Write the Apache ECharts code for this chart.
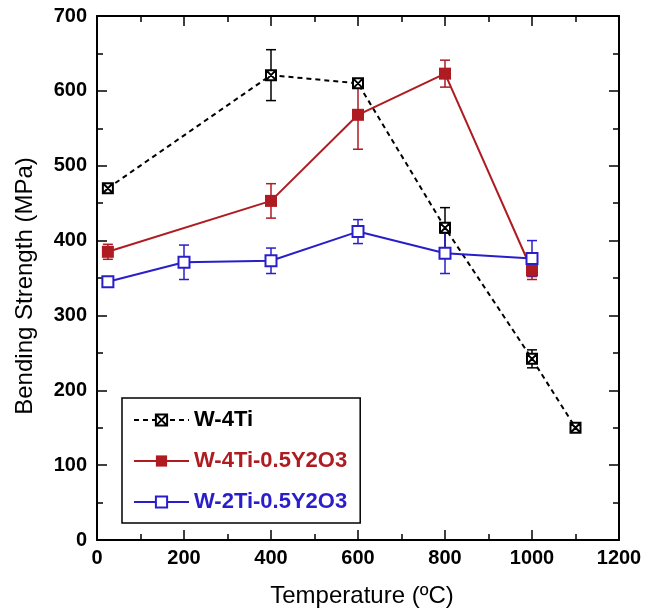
<!DOCTYPE html>
<html style="height: 100%">

<head>
  <meta charset="utf-8">
  <script type="text/javascript" src="https://cdn.jsdelivr.net/npm/echarts/dist/echarts.min.js"></script>
</head>

<body style="margin: 0; height: 100%; background: #fff">
  <div id="container" style="width: 659px; height: 609px"></div>
  <script type="text/javascript">
    // data
    var names = ["W-4Ti", "W-4Ti-0.5Y2O3", "W-2Ti-0.5Y2O3"];
    var w4tiX = [25, 400, 600, 800, 1000, 1100];
    var w4tiY = [470, 621, 610, 417, 242, 150];
    var w4tiErr = [0, 34, 0, 27, 12, 0];
    var w4tiYX = [25, 400, 600, 800, 1000];
    var w4tiYY = [385, 453, 568, 623, 360];
    var w4tiYErr = [10, 23, 46, 18, 12];
    var w2tiYX = [25, 200, 400, 600, 800, 1000];
    var w2tiYY = [345, 371, 373, 412, 383, 376];
    var w2tiYErr = [3, 23, 17, 16, 27, 24];

    var _colors = ['#000000', '#ae1c22', '#2a1ecb'];
    var fontName = 'Liberation Sans, Arial, sans-serif';
    var crossBox = 'path://M0,0L10,0L10,10L0,10Z M0,0L10,10 M10,0L0,10';

    function pairs(xs, ys) {
      var out = [];
      for (var i = 0; i < xs.length; i++) out.push([xs[i], ys[i]]);
      return out;
    }
    function errData(xs, ys, es) {
      var out = [];
      for (var i = 0; i < xs.length; i++) {
        if (es[i] > 0) out.push([xs[i], ys[i] - es[i], ys[i] + es[i]]);
      }
      return out;
    }
    function errSeries(data, color) {
      return {
        type: 'custom',
        silent: true,
        z: 1,
        data: data,
        renderItem: function (params, api) {
          var lo = api.coord([api.value(0), api.value(1)]);
          var hi = api.coord([api.value(0), api.value(2)]);
          var w = 5;
          var st = { stroke: color, lineWidth: 1.5 };
          return {
            type: 'group',
            children: [
              { type: 'line', shape: { x1: lo[0], y1: lo[1], x2: hi[0], y2: hi[1] }, style: st },
              { type: 'line', shape: { x1: lo[0] - w, y1: lo[1], x2: lo[0] + w, y2: lo[1] }, style: st },
              { type: 'line', shape: { x1: hi[0] - w, y1: hi[1], x2: hi[0] + w, y2: hi[1] }, style: st }
            ]
          };
        }
      };
    }

    function plain(v) { return String(v); }
    var axisLine = { onZero: false, lineStyle: { color: '#000', width: 2 } };
    function xAx(pos, labels) {
      return {
        type: 'value', position: pos, min: 0, max: 1200, interval: 200,
        axisLine: axisLine,
        axisTick: { inside: true, length: 10, lineStyle: { color: '#000', width: 1.5 } },
        minorTick: { show: true, splitNumber: 2, length: 6, lineStyle: { color: '#000', width: 1.5 } },
        splitLine: { show: false },
        axisLabel: { show: labels, formatter: plain, color: '#000', fontSize: 20, fontWeight: 'bold', fontFamily: fontName, margin: 8 }
      };
    }
    function yAx(pos, labels) {
      return {
        type: 'value', position: pos, min: 0, max: 700, interval: 100,
        axisLine: axisLine,
        axisTick: { inside: true, length: 10, lineStyle: { color: '#000', width: 1.5 } },
        minorTick: { show: true, splitNumber: 2, length: 6, lineStyle: { color: '#000', width: 1.5 } },
        splitLine: { show: false },
        axisLabel: { show: labels, formatter: plain, color: '#000', fontSize: 20, fontWeight: 'bold', fontFamily: fontName, margin: 10 }
      };
    }

    var xMain = xAx('bottom', true);
    xMain.name = 'Temperature (\u00baC)';
    xMain.nameLocation = 'middle';
    xMain.nameGap = 44;
    xMain.nameTextStyle = { color: '#000', fontSize: 24, fontFamily: fontName, padding: [0, 0, 0, 8] };
    var yMain = yAx('left', true);
    yMain.name = 'Bending Strength (MPa)';
    yMain.nameLocation = 'middle';
    yMain.nameGap = 60;
    yMain.nameTextStyle = { color: '#000', fontSize: 24, fontFamily: fontName, padding: [0, 16, 0, 0] };

    var myChart = echarts.init(document.getElementById('container'));
    var option = {
      animation: false,
      backgroundColor: '#fff',
      grid: { left: 97, right: 40, top: 16, bottom: 69, outerBoundsMode: 'none', containLabel: false },
      xAxis: [xMain, xAx('top', false)],
      yAxis: [yMain, yAx('right', false)],
      legend: {
        orient: 'vertical',
        left: 122,
        top: 398,
        padding: [11, 13, 10, 11],
        borderColor: '#000',
        borderWidth: 1.5,
        itemWidth: 55,
        itemHeight: 14,
        itemGap: 19,
        textStyle: { fontSize: 22, fontWeight: 'bold', fontFamily: fontName, lineHeight: 22 },
        data: [
          { name: names[0], textStyle: { color: _colors[0] } },
          { name: names[1], textStyle: { color: _colors[1] } },
          { name: names[2], textStyle: { color: _colors[2] } }
        ]
      },
      series: [
        errSeries(errData(w4tiX, w4tiY, w4tiErr), _colors[0]),
        errSeries(errData(w4tiYX, w4tiYY, w4tiYErr), _colors[1]),
        errSeries(errData(w2tiYX, w2tiYY, w2tiYErr), _colors[2]),
        {
          name: names[0], type: 'line', z: 3,
          data: pairs(w4tiX, w4tiY),
          symbol: crossBox, symbolSize: 10,
          lineStyle: { color: _colors[0], width: 2, type: [5, 4] },
          itemStyle: { color: '#fff', borderColor: '#000', borderWidth: 2 }
        },
        {
          name: names[1], type: 'line', z: 4,
          data: pairs(w4tiYX, w4tiYY),
          symbol: 'rect', symbolSize: 12,
          lineStyle: { color: _colors[1], width: 2 },
          itemStyle: { color: _colors[1], borderColor: _colors[1], borderWidth: 0 }
        },
        {
          name: names[2], type: 'line', z: 4,
          data: pairs(w2tiYX, w2tiYY),
          symbol: 'rect', symbolSize: 11,
          lineStyle: { color: _colors[2], width: 2 },
          itemStyle: { color: '#fff', borderColor: _colors[2], borderWidth: 2 }
        }
      ]
    };
    myChart.setOption(option);
  </script>
</body>

</html>
